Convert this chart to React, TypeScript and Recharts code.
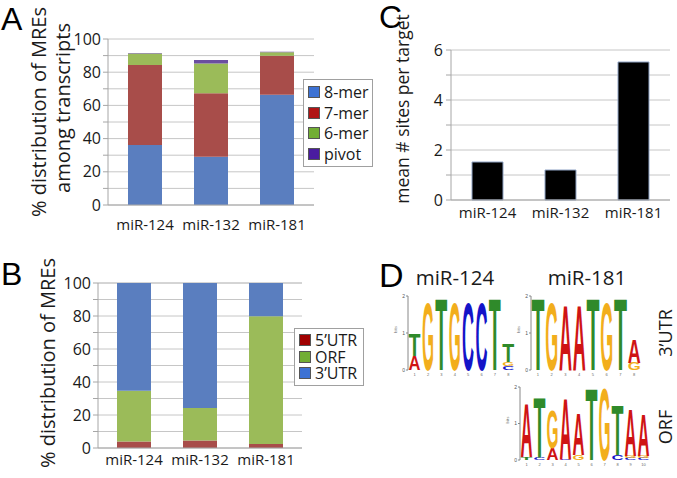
import React from 'react';
import { BarChart, Bar, XAxis, YAxis, CartesianGrid } from 'recharts';

const FONT = '"Open Sans", "DejaVu Sans", sans-serif';
const LETTER_FONT = '"Liberation Sans", Arial, sans-serif';

// Shared categories
const categories = ['miR-124', 'miR-132', 'miR-181'];

// Panel A: % distribution of MRE types
const merSeries = ['8-mer', '7-mer', '6-mer', 'pivot'];
const mer8 = [36.1, 29.1, 66.4];
const mer7 = [48.2, 38.2, 23.5];
const mer6 = [6.9, 18.0, 2.1];
const merPivot = [0.4, 2.0, 0.3];
const merBarColors = ['#5A7EBF', '#A84D4A', '#9BBB59', '#6B4EA0'];
const merSwatchColors = ['#3D72D4', '#B01515', '#72AE34', '#4A1CA0'];
const ticksA = [0, 10, 20, 30, 40, 50, 60, 70, 80, 90, 100];

// Panel B: % distribution by region
const regionSeries = ['5\u2019UTR', 'ORF', '3\u2019UTR'];
const utr5 = [4.0, 4.6, 2.4];
const orf = [30.7, 19.6, 77.4];
const utr3 = [65.3, 75.8, 20.2];
const regionBarColors = ['#A84D4A', '#9BBB59', '#5A7EBF'];
const regionSwatchColors = ['#A00000', '#72AE34', '#3D72D4'];

// Panel C: mean # sites per target
const sitesPerTarget = [1.52, 1.2, 5.52];
const ticksC = [0, 1, 2, 3, 4, 5, 6];

// Panel D: sequence logos (bottom -> top letters with heights in bits)
const logo124: [string, number][][] = [
  [['A', 0.39], ['T', 0.59]],
  [['G', 1.88]],
  [['T', 1.98]],
  [['G', 1.88]],
  [['C', 1.88]],
  [['C', 1.88]],
  [['T', 1.98]],
  [['C', 0.1], ['G', 0.12], ['T', 0.5]],
];
const logo181: [string, number][][] = [
  [['T', 1.98]],
  [['G', 1.86]],
  [['A', 1.8]],
  [['A', 1.8]],
  [['T', 1.98]],
  [['G', 1.86]],
  [['T', 1.98]],
  [['G', 0.2], ['A', 0.66]],
];
const logoORF: [string, number][][] = [
  [['T', 0.07], ['A', 1.48]],
  [['C', 0.07], ['T', 1.66]],
  [['A', 0.33], ['G', 1.07]],
  [['C', 0.04], ['A', 1.72]],
  [['G', 0.15], ['A', 1.15]],
  [['T', 1.99]],
  [['G', 1.99]],
  [['C', 0.15], ['T', 1.38]],
  [['C', 0.06], ['G', 0.06], ['A', 1.32]],
  [['C', 0.06], ['G', 0.06], ['A', 1.18]],
];
const letterColors: Record<string, string> = {
  A: '#CF1414',
  T: '#2F8A2A',
  G: '#F2AE1C',
  C: '#1414C8',
};
// glyph metrics of Liberation Sans Bold (per 100 units)
const letterAdvance: Record<string, number> = { A: 72.2, C: 72.2, G: 77.8, T: 61.1 };

const dataA = categories.map((name, i) => ({
  name,
  m8: mer8[i],
  m7: mer7[i],
  m6: mer6[i],
  pv: merPivot[i],
}));
const dataB = categories.map((name, i) => ({
  name,
  u5: utr5[i],
  orf: orf[i],
  u3: utr3[i],
}));
const dataC = categories.map((name, i) => ({ name, v: sitesPerTarget[i] }));

const toLogoData = (logo: [string, number][][]) =>
  logo.map((col, i) => {
    const row: any = { pos: i + 1 };
    for (let s = 0; s < 3; s++) {
      row['v' + s] = col[s] ? col[s][1] : 0;
      row['l' + s] = col[s] ? col[s][0] : '';
    }
    return row;
  });

const letterShape = (slot: number) => (props: any) => {
  const { x, y, width, height, payload } = props;
  const L = payload ? payload['l' + slot] : '';
  if (!L || !(height > 0.2)) return <g />;
  const sx = width / letterAdvance[L];
  const sy = height / 71.6;
  return (
    <text
      x={0}
      y={0}
      transform={`translate(${x},${y + height}) scale(${sx},${sy})`}
      fontSize={100}
      fontFamily={LETTER_FONT}
      fontWeight="bold"
      fill={letterColors[L]}
    >
      {L}
    </text>
  );
};

const axisGray = '#A6A6A6';
const gridGray = '#C6C6C6';
const yTickStyle = { fontSize: 16, fill: '#1a1a1a', fontFamily: FONT };
const xTickStyle = { fontSize: 15, fill: '#1a1a1a', fontFamily: FONT };

function LegendBox({ left, top, width, labels, colors, rowH, swatch, fontSize, padTop }: any) {
  return (
    <div
      style={{
        position: 'absolute',
        left,
        top,
        width,
        background: '#fff',
        border: '1px solid #A0A0A0',
        boxSizing: 'border-box',
        padding: `${padTop}px 0 ${padTop}px 4px`,
        fontFamily: FONT,
        fontSize,
        color: '#1a1a1a',
      }}
    >
      {labels.map((l: string, i: number) => (
        <div key={l} style={{ display: 'flex', alignItems: 'center', height: rowH }}>
          <div
            style={{
              width: swatch,
              height: swatch,
              background: colors[i],
              border: '1px solid #555',
              boxSizing: 'border-box',
              marginRight: 4,
            }}
          />
          <span style={{ lineHeight: 1 }}>{l}</span>
        </div>
      ))}
    </div>
  );
}

function Logo({ logo, left, top, width, height, margin }: any) {
  const data = toLogoData(logo);
  return (
    <div style={{ position: 'absolute', left, top }}>
      <BarChart width={width} height={height} data={data} margin={margin} barCategoryGap={0.5}>
        <XAxis
          dataKey="pos"
          height={10}
          axisLine={false}
          tickLine={false}
          interval={0}
          tickSize={1}
          tickMargin={2}
          tick={{ fontSize: 4, fill: '#666', fontFamily: LETTER_FONT }}
        />
        <YAxis
          domain={[0, 2]}
          ticks={[0, 1, 2]}
          width={12}
          tickSize={2}
          tickMargin={1}
          tick={{ fontSize: 5, fill: '#555', fontFamily: LETTER_FONT }}
          axisLine={{ stroke: '#888' }}
          tickLine={{ stroke: '#888' }}
          label={{ value: 'bits', angle: -90, position: 'insideLeft', fontSize: 4, fill: '#666', offset: 0 }}
        />
        {[0, 1, 2].map((s) => (
          <Bar key={s} dataKey={'v' + s} stackId="s" isAnimationActive={false} shape={letterShape(s)} />
        ))}
      </BarChart>
    </div>
  );
}

export default function App() {
  return (
    <div
      style={{
        position: 'relative',
        width: 677,
        height: 478,
        background: '#fff',
        overflow: 'hidden',
        fontFamily: FONT,
      }}
    >
      <style>{'body{margin:0;}'}</style>

      {/* Panel A */}
      <div style={{ position: 'absolute', left: 0, top: 0 }}>
        <BarChart width={335} height={240} data={dataA} margin={{ top: 39, right: 21, bottom: 5, left: 68 }}>
          <CartesianGrid vertical={false} stroke={gridGray} />
          <XAxis
            dataKey="name"
            height={30}
            padding={{ left: 4, right: 4 }}
            tickLine={false}
            tickMargin={8}
            axisLine={{ stroke: axisGray }}
            tick={xTickStyle}
          />
          <YAxis
            domain={[0, 100]}
            ticks={ticksA}
            interval={0}
            width={40}
            tickSize={5}
            tickMargin={2}
            tickFormatter={(v: number) => (v % 20 === 0 ? String(v) : '')}
            axisLine={{ stroke: axisGray }}
            tickLine={{ stroke: axisGray }}
            tick={yTickStyle}
            label={{
              content: () => (
                <g>
                  <text x={1} y={30} fontSize={32} fontFamily={LETTER_FONT} fill="#000">A</text>
                  <text transform="translate(38,112) rotate(-90)" textAnchor="middle" dominantBaseline="central" fontSize={20} fontFamily={FONT} fill="#1a1a1a">
                    % distribution of MREs
                  </text>
                  <text transform="translate(62,108) rotate(-90)" textAnchor="middle" dominantBaseline="central" fontSize={20} fontFamily={FONT} fill="#1a1a1a">
                    among transcripts
                  </text>
                </g>
              ),
            }}
          />
          <Bar dataKey="m8" name={merSeries[0]} stackId="a" fill={merBarColors[0]} barSize={34} isAnimationActive={false} />
          <Bar dataKey="m7" name={merSeries[1]} stackId="a" fill={merBarColors[1]} barSize={34} isAnimationActive={false} />
          <Bar dataKey="m6" name={merSeries[2]} stackId="a" fill={merBarColors[2]} barSize={34} isAnimationActive={false} />
          <Bar dataKey="pv" name={merSeries[3]} stackId="a" fill={merBarColors[3]} barSize={34} isAnimationActive={false} />
        </BarChart>
      </div>
      <LegendBox left={303} top={79} width={70} labels={merSeries} colors={merSwatchColors} rowH={20.5} swatch={12} fontSize={16} padTop={2} />

      {/* Panel C */}
      <div style={{ position: 'absolute', left: 340, top: 0 }}>
        <BarChart width={337} height={240} data={dataC} margin={{ top: 50, right: 7, bottom: 10, left: 71 }}>
          <CartesianGrid vertical={false} stroke={gridGray} />
          <XAxis
            dataKey="name"
            height={30}
            tickLine={false}
            tickMargin={1}
            axisLine={{ stroke: axisGray }}
            tick={xTickStyle}
          />
          <YAxis
            domain={[0, 6]}
            ticks={ticksC}
            interval={0}
            width={40}
            tickSize={5}
            tickMargin={3}
            tickFormatter={(v: number) => (v % 2 === 0 ? String(v) : '')}
            axisLine={{ stroke: axisGray }}
            tickLine={{ stroke: axisGray }}
            tick={yTickStyle}
            label={{
              content: () => (
                <g>
                  <text x={39} y={28} fontSize={32} fontFamily={LETTER_FONT} fill="#000">C</text>
                  <text transform="translate(62,109) rotate(-90)" textAnchor="middle" dominantBaseline="central" fontSize={17.5} fontFamily={FONT} fill="#1a1a1a">
                    mean # sites per target
                  </text>
                </g>
              ),
            }}
          />
          <Bar dataKey="v" fill="#000" stroke="#8FA3C4" strokeWidth={1} barSize={31} isAnimationActive={false} />
        </BarChart>
      </div>

      {/* Panel B */}
      <div style={{ position: 'absolute', left: 0, top: 240 }}>
        <BarChart width={335} height={238} data={dataB} margin={{ top: 43, right: 33, bottom: 4, left: 58 }}>
          <CartesianGrid vertical={false} stroke={gridGray} />
          <XAxis
            dataKey="name"
            height={26}
            padding={{ left: 3, right: 3 }}
            tickLine={false}
            tickMargin={0}
            axisLine={{ stroke: axisGray }}
            tick={xTickStyle}
          />
          <YAxis
            domain={[0, 100]}
            ticks={ticksA}
            interval={0}
            width={40}
            tickSize={5}
            tickMargin={2}
            tickFormatter={(v: number) => (v % 20 === 0 ? String(v) : '')}
            axisLine={{ stroke: axisGray }}
            tickLine={{ stroke: axisGray }}
            tick={yTickStyle}
            label={{
              content: () => (
                <g>
                  <text x={1} y={45} fontSize={32} fontFamily={LETTER_FONT} fill="#000">B</text>
                  <text transform="translate(47,123) rotate(-90)" textAnchor="middle" dominantBaseline="central" fontSize={20} fontFamily={FONT} fill="#1a1a1a">
                    % distribution of MREs
                  </text>
                </g>
              ),
            }}
          />
          <Bar dataKey="u5" name={regionSeries[0]} stackId="b" fill={regionBarColors[0]} barSize={34} isAnimationActive={false} />
          <Bar dataKey="orf" name={regionSeries[1]} stackId="b" fill={regionBarColors[1]} barSize={34} isAnimationActive={false} />
          <Bar dataKey="u3" name={regionSeries[2]} stackId="b" fill={regionBarColors[2]} barSize={34} isAnimationActive={false} />
        </BarChart>
      </div>
      <LegendBox left={294} top={328} width={70} labels={regionSeries} colors={regionSwatchColors} rowH={16.5} swatch={12} fontSize={16} padTop={3} />

      {/* Panel D */}
      <svg width={677} height={478} style={{ position: 'absolute', left: 0, top: 0, pointerEvents: 'none' }}>
        <text x={379} y={287} fontSize={34} fontFamily={LETTER_FONT} fill="#000">D</text>
        <text x={455} y={285} textAnchor="middle" fontSize={20.5} fontFamily={FONT} fill="#1a1a1a">miR-124</text>
        <text x={587} y={285} textAnchor="middle" fontSize={20.5} fontFamily={FONT} fill="#1a1a1a">miR-181</text>
        <text transform="translate(665,333) rotate(-90)" textAnchor="middle" dominantBaseline="central" fontSize={18} fontFamily={FONT} fill="#1a1a1a">3{'\u2019'}UTR</text>
        <text transform="translate(665,427) rotate(-90)" textAnchor="middle" dominantBaseline="central" fontSize={18} fontFamily={FONT} fill="#1a1a1a">ORF</text>
      </svg>
      <Logo logo={logo124} left={385} top={290} width={135} height={95} margin={{ top: 6, right: 5, bottom: 5, left: 11 }} />
      <Logo logo={logo181} left={510} top={290} width={135} height={95} margin={{ top: 6, right: 4, bottom: 5, left: 9 }} />
      <Logo logo={logoORF} left={495} top={380} width={160} height={95} margin={{ top: 7, right: 5, bottom: 5, left: 13 }} />
    </div>
  );
}
